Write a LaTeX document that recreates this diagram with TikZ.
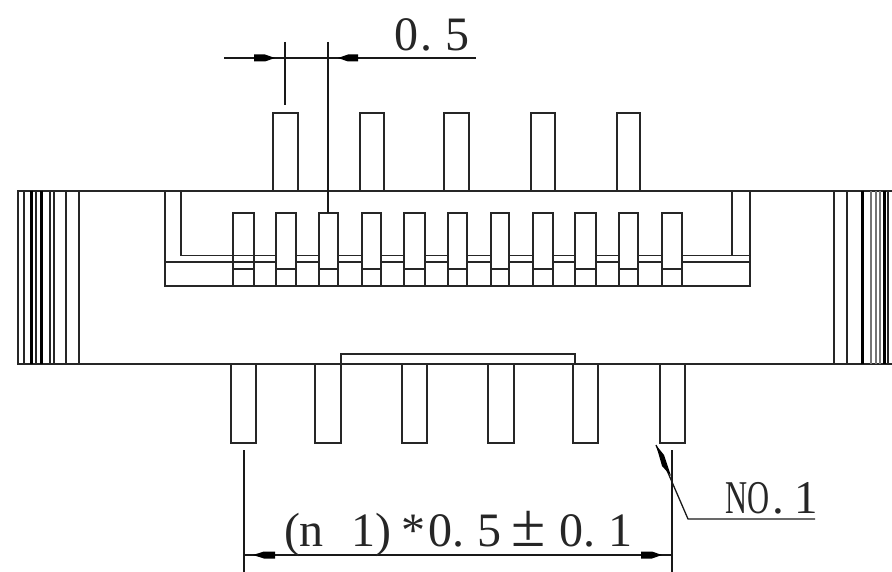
\documentclass[tikz,border=0pt]{standalone}
\usepackage{fontspec}
\setmainfont{Liberation Serif}
\tikzset{
  x=1pt,y=-1pt,
  ln/.style={line width=1.5pt,draw=black!85},
  thin ln/.style={line width=1.3pt,draw=black!90},
  heavy/.style={line width=3pt,draw=black},
  grey ln/.style={line width=1.8pt,draw=black!55},
  txt/.style={inner sep=0pt,outer sep=0pt,anchor=base west,text=black!85}
}
\newcommand{\pinbox}[4]{\draw[ln] (#1,#3) rectangle (#2,#4);}
\begin{document}
\begin{tikzpicture}
\useasboundingbox (0,0) rectangle (892,572);
% body
\draw[ln] (892,191) -- (18,191) -- (18,364) -- (892,364);
% left ribs
\foreach \x in {24,36,50,54,66,79} \draw[ln] (\x,191) -- (\x,364);
\foreach \x in {31.5,41.5} \draw[heavy] (\x,191) -- (\x,364);
% right ribs
\foreach \x in {834,847,888} \draw[ln] (\x,191) -- (\x,364);
\foreach \x in {871,876,880} \draw[grey ln] (\x,191) -- (\x,364);
\foreach \x in {862,884} \draw[heavy] (\x,191) -- (\x,364);
% tray
\draw[ln] (165,191) -- (165,286) -- (750,286) -- (750,191);
\draw[ln] (165,262) -- (750,262);
\draw[ln] (181,191) -- (181,255.5) -- (750,255.5);
\draw[ln] (732,191) -- (732,255.5);
% middle pins
\foreach \x/\w in {233/254,276/296,319/338,362/381,404/425,448/467,491/509,533/553,575/596,619/638,662/682}{
  \path[fill=white] (\x,213) rectangle (\w,286);
  \draw[ln] (\x,213) rectangle (\w,286);
  \draw[ln] (\x,269) -- (\w,269);
}
\draw[ln] (233,255.5) -- (254,255.5) (233,262) -- (254,262);
% top pins
\foreach \x/\w in {273/298,360/384,444/469,531/555,617/640} \pinbox{\x}{\w}{113}{191}
% bottom pins
\foreach \x/\w in {231/256,315/341,402/427,488/514,573/598,660/685} \pinbox{\x}{\w}{364}{443}
\draw[ln] (341,364) -- (341,354) -- (575,354) -- (575,364);
% top dimension
\draw[thin ln] (224,58) -- (476,58);
\draw[thin ln] (285,42) -- (285,105);
\draw[thin ln] (328,42) -- (328,213);
\fill (254,54.5) -- (265,54.5) -- (275,58) -- (265,61.5) -- (254,61.5) -- cycle;
\fill (358,54.5) -- (348,54.5) -- (338,58) -- (348,61.5) -- (358,61.5) -- cycle;
\node[txt,font=\fontsize{48}{48}\selectfont] (d1) at (394,51) {0\kern 3pt.\kern 13pt 5};
% bottom dimension
\draw[thin ln] (244,450) -- (244,572);
\draw[thin ln] (672,450) -- (672,572);
\draw[thin ln] (244,555) -- (672,555);
\fill (275,551.5) -- (264,551.5) -- (253,555) -- (264,558.5) -- (275,558.5) -- cycle;
\fill (641,551.5) -- (652,551.5) -- (662,555) -- (652,558.5) -- (641,558.5) -- cycle;
\node[txt,font=\fontsize{48}{48}\selectfont] (d2) at (284,546) {(n\kern 28pt 1)\kern 10pt *\kern 3pt 0.\kern 13pt 5\kern 10pt \scalebox{1.3}{±}\kern 13pt 0.\kern 13pt 1};
% NO.1 leader
\node[txt,font=\fontsize{47}{47}\selectfont] (no) at (725,513) {\scalebox{.65}[1]{NO}\kern 3pt.\kern 11pt 1};
\coordinate (lead) at (688,519);
\coordinate (tip) at (656,445);
\draw[thin ln] (tip) -- (lead) -- (815,519);
\fill (tip) -- (664,455) -- (671,476) -- (662,466) -- cycle;
\end{tikzpicture}
\end{document}
